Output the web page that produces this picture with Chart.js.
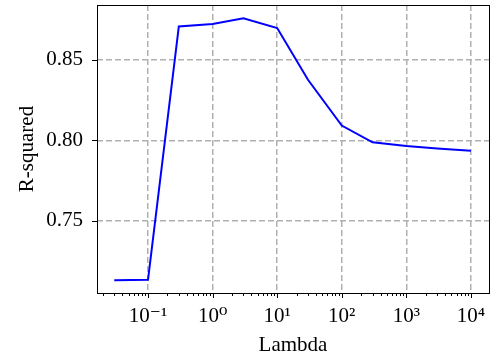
<!DOCTYPE html>
<html>
<head>
<meta charset="utf-8">
<script src="https://cdn.jsdelivr.net/npm/chart.js@4"></script>
<style>
  html, body { margin: 0; padding: 0; background: #fff; }
  canvas { display: block; }
</style>
</head>
<body>
<canvas id="chart" width="495" height="358"></canvas>
<script>
// data
const lambdas = [0.03, 0.1, 0.3, 1, 3, 10, 30, 100, 300, 1000, 3000, 10000];
const rSquared = [0.7132, 0.7135, 0.8707, 0.8722, 0.8757, 0.8697, 0.8376, 0.8092, 0.7988, 0.7965, 0.7950, 0.7936];
const xMajorTicks = [0.1, 1, 10, 100, 1000, 10000];
const xTickLabels = ['10\u207B\u00B9', '10\u2070', '10\u00B9', '10\u00B2', '10\u00B3', '10\u2074'];
const yTicks = [0.75, 0.80, 0.85];

const FONT = "'Liberation Serif', 'DejaVu Serif', serif";

// frame + matplotlib style tick marks
const axesPlugin = {
  id: 'axesPlugin',
  afterDraw(chart) {
    const { ctx, chartArea: { left, right, top, bottom }, scales: { x, y } } = chart;
    ctx.save();
    ctx.strokeStyle = '#000';
    ctx.lineWidth = 1;

    // minor + major ticks on log axis
    for (let e = -3; e <= 5; e++) {
      for (let m = 1; m <= 9; m++) {
        const v = m * Math.pow(10, e);
        const px = x.getPixelForValue(v);
        if (px < left - 0.5 || px > right + 0.5) continue;
        const len = m === 1 ? 5 : 3;
        ctx.beginPath();
        ctx.moveTo(Math.round(px) + 0.5, bottom);
        ctx.lineTo(Math.round(px) + 0.5, bottom + len);
        ctx.stroke();
      }
    }
    // y ticks
    yTicks.forEach(v => {
      const py = Math.round(y.getPixelForValue(v)) + 0.5;
      ctx.beginPath();
      ctx.moveTo(left - 5, py);
      ctx.lineTo(left, py);
      ctx.stroke();
    });
    // frame
    ctx.strokeRect(Math.round(left) + 0.5, Math.round(top) + 0.5,
      Math.round(right - left), Math.round(bottom - top));
    ctx.restore();
  }
};

new Chart(document.getElementById('chart').getContext('2d'), {
  type: 'line',
  data: {
    datasets: [{
      label: 'R-squared',
      data: lambdas.map((l, i) => ({ x: l, y: rSquared[i] })),
      borderColor: '#0000ff',
      borderWidth: 2,
      pointRadius: 0,
      fill: false,
      tension: 0
    }]
  },
  options: {
    responsive: false,
    animation: false,
    layout: { padding: { top: 5, right: 6, left: 0, bottom: 0 } },
    plugins: { legend: { display: false }, tooltip: { enabled: false } },
    scales: {
      x: {
        type: 'logarithmic',
        min: Math.pow(10, -1.79),
        max: Math.pow(10, 4.28),
        afterBuildTicks: (scale) => { scale.ticks = xMajorTicks.map(v => ({ value: v })); },
        afterFit: (scale) => {
          scale.height = 65;
          scale.paddingLeft = 0;
          scale.paddingRight = 0;
        },
        border: { display: false, dash: [6, 3] },
        grid: { color: '#b0b0b0', lineWidth: 1.5, drawTicks: false },
        ticks: {
          autoSkip: false,
          maxRotation: 0,
          padding: 11,
          color: '#000',
          font: { family: FONT, size: 21 },
          callback: (value) => {
            const i = xMajorTicks.findIndex(t => Math.abs(t - value) / t < 1e-6);
            return i >= 0 ? xTickLabels[i] : '';
          }
        },
        title: {
          display: true,
          text: 'Lambda',
          color: '#000',
          font: { family: FONT, size: 21 },
          padding: { top: 0, bottom: 0 }
        }
      },
      y: {
        min: 0.7053,
        max: 0.884,
        afterBuildTicks: (scale) => { scale.ticks = yTicks.map(v => ({ value: v })); },
        afterFit: (scale) => {
          scale.width = 97;
          scale.paddingTop = 0;
          scale.paddingBottom = 0;
        },
        border: { display: false, dash: [6, 3] },
        grid: { color: '#b0b0b0', lineWidth: 1.5, drawTicks: false },
        ticks: {
          padding: 14,
          color: '#000',
          font: { family: FONT, size: 21 },
          callback: (value) => value.toFixed(2)
        },
        title: {
          display: true,
          text: 'R-squared',
          color: '#000',
          font: { family: FONT, size: 21 },
          padding: { top: 15, bottom: 0 }
        }
      }
    }
  },
  plugins: [axesPlugin]
});
</script>
</body>
</html>
